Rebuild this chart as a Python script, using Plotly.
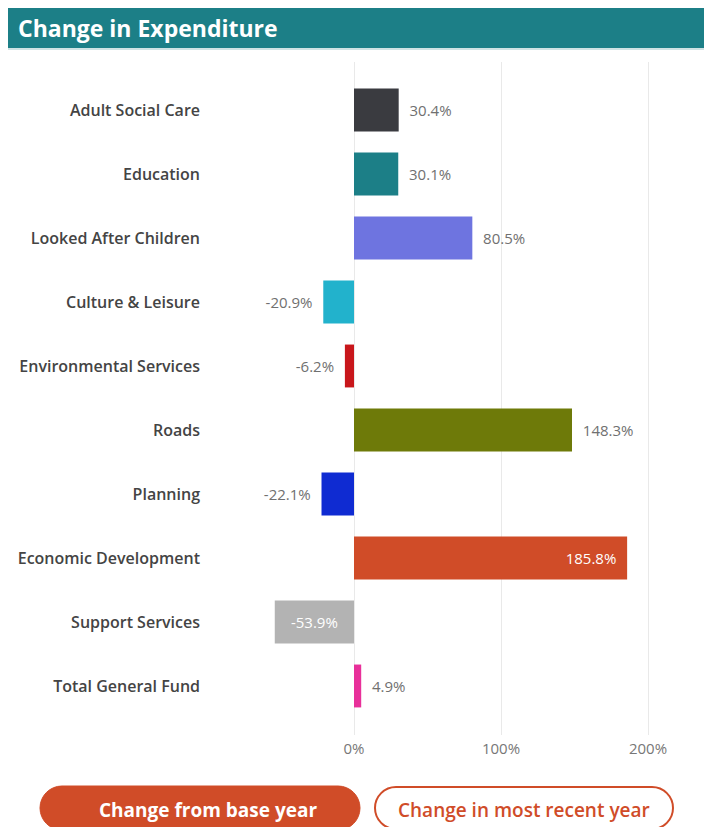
import plotly.graph_objects as go

categories = ["Adult Social Care", "Education", "Looked After Children", "Culture & Leisure",
              "Environmental Services", "Roads", "Planning", "Economic Development",
              "Support Services", "Total General Fund"]
values = [30.4, 30.1, 80.5, -20.9, -6.2, 148.3, -22.1, 185.8, -53.9, 4.9]
colors = ["#3a3b40", "#1c7f87", "#6e74e0", "#22b2cc", "#c8161b",
          "#6e7a09", "#0f2bd2", "#d04c28", "#b3b3b3", "#e8309a"]
inside = ["Economic Development", "Support Services"]
tick_vals = [0, 100, 200]
tick_text = ["0%", "100%", "200%"]
title_text = "Change in Expenditure"
button_labels = ["Change from base year", "Change in most recent year"]

W, H = 704, 827
L, R, T, B = 210, 14, 62, 92
PW, PH = W - L - R, H - T - B


def px_x(p):
    return (p - L) / PW


def px_y(p):
    return (H - B - p) / PH


NB = "\u00a0"
LBL_SIZE = 15
fig = go.Figure()
for cat, v, c in zip(categories, values, colors):
    lbl = f"{v:.1f}%"
    if cat in inside:
        pos = "inside"
        anchor = "end" if v > 0 else "middle"
        txt = lbl + NB * 2 if v > 0 else lbl
    else:
        pos = "outside"
        anchor = "end"
        txt = NB * 2 + lbl if v > 0 else lbl + NB * 2
    fig.add_trace(go.Bar(
        x=[v], y=[cat], orientation="h",
        marker=dict(color=c, line=dict(width=0)),
        width=0.67,
        text=[txt], textposition=pos, insidetextanchor=anchor,
        textfont=dict(family="Open Sans", size=LBL_SIZE,
                      color="#ffffff" if pos == "inside" else "#707070"),
        outsidetextfont=dict(family="Open Sans", size=LBL_SIZE, color="#707070"),
        insidetextfont=dict(family="Open Sans", size=LBL_SIZE, color="#ffffff"),
        constraintext="none",
        cliponaxis=False, showlegend=False, hoverinfo="skip",
    ))

xr0 = (L - 354) / 1.47
xr1 = (L + PW - 354) / 1.47

fig.update_layout(
    width=W, height=H,
    margin=dict(l=L, r=R, t=T, b=B, pad=0),
    paper_bgcolor="white", plot_bgcolor="white",
    barmode="overlay",
    xaxis=dict(range=[xr0, xr1], tickvals=tick_vals, ticktext=tick_text,
               showgrid=True, gridcolor="#e9e9e9", gridwidth=1,
               zeroline=True, zerolinecolor="#e9e9e9", zerolinewidth=1,
               showline=False, ticks="", fixedrange=True, ticklabelstandoff=3,
               tickfont=dict(family="Open Sans", size=15, color="#777777")),
    yaxis=dict(categoryorder="array", categoryarray=categories,
               range=[9.766, -0.75], showgrid=False, zeroline=False, showline=False,
               ticks="", ticklabelstandoff=9,
               tickfont=dict(family="Open Sans", size=16, color="#444444", weight=600)),
    font=dict(family="Open Sans"),
)

shapes = []
# title bar
shapes.append(dict(type="rect", xref="paper", yref="paper",
                   x0=px_x(8), x1=px_x(704), y0=px_y(48), y1=px_y(8),
                   fillcolor="#1c7f87", line=dict(width=0), layer="above"))
shapes.append(dict(type="rect", xref="paper", yref="paper",
                   x0=px_x(8), x1=px_x(704), y0=px_y(50), y1=px_y(48),
                   fillcolor="#cfe3e4", line=dict(width=0), layer="above"))


def pill(w, h):
    r = h
    k = 0.5523 * r
    return (f"M {-w + r},{-h} L {w - r},{-h} "
            f"C {w - r + k},{-h} {w},{-k} {w},0 "
            f"C {w},{k} {w - r + k},{h} {w - r},{h} "
            f"L {-w + r},{h} "
            f"C {-w + r - k},{h} {-w},{k} {-w},0 "
            f"C {-w},{-k} {-w + r - k},{-h} {-w + r},{-h} Z")


btn_y = 808
shapes.append(dict(type="path", xref="paper", yref="paper",
                   xsizemode="pixel", ysizemode="pixel",
                   xanchor=px_x(200), yanchor=px_y(btn_y),
                   path=pill(160, 22), fillcolor="#d04c28",
                   line=dict(color="#d04c28", width=1)))
shapes.append(dict(type="path", xref="paper", yref="paper",
                   xsizemode="pixel", ysizemode="pixel",
                   xanchor=px_x(524), yanchor=px_y(btn_y),
                   path=pill(149, 21), fillcolor="white",
                   line=dict(color="#d04c28", width=2)))

annotations = [
    dict(text=f"<b>{title_text}</b>", xref="paper", yref="paper",
         x=px_x(16), y=px_y(28), xanchor="left", yanchor="middle", showarrow=False,
         font=dict(family="Open Sans", size=23, color="white")),
    dict(text=f"<b>{button_labels[0]}</b>", xref="paper", yref="paper",
         x=px_x(208), y=px_y(810), xanchor="center", yanchor="middle", showarrow=False,
         font=dict(family="Open Sans", size=19, color="white")),
    dict(text=button_labels[1], xref="paper", yref="paper",
         x=px_x(524), y=px_y(810), xanchor="center", yanchor="middle", showarrow=False,
         font=dict(family="Open Sans", size=19, color="#d04c28", weight=600)),
]

fig.update_layout(shapes=shapes, annotations=annotations)
fig.write_html("out.html")
